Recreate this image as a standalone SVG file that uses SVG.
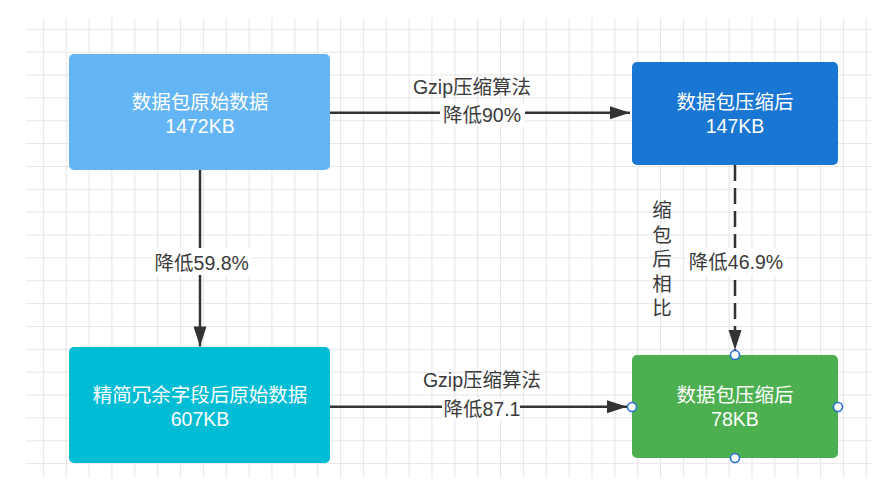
<svg xmlns="http://www.w3.org/2000/svg" width="894" height="485" viewBox="0 0 894 485">
  <defs>
    <pattern id="grid" x="42.8" y="28.8" width="22.86" height="22.86" patternUnits="userSpaceOnUse">
      <path d="M0.5,0 V22.86 M0,0.5 H22.86" fill="none" stroke="#e6e6e6" stroke-width="1.2"/>
    </pattern>
    <marker id="arrow" markerUnits="userSpaceOnUse" markerWidth="20" markerHeight="14" refX="20" refY="7" orient="auto" overflow="visible">
      <path d="M0,0.5 L20,7 L0,13.5 Z" fill="#333333"/>
    </marker>
    <style>
      .node-text { font-family: "Liberation Sans", "Noto Sans CJK SC", sans-serif; font-size: 19.5px; fill: #ffffff; text-anchor: middle; }
      .label { font-family: "Liberation Sans", "Noto Sans CJK SC", sans-serif; font-size: 19.5px; fill: #3a3a3a; text-anchor: middle; }
      .edge { fill: none; stroke: #333333; stroke-width: 2.5; marker-end: url(#arrow); }
      .dashed { stroke-dasharray: 16 7; }
      .label-bg { fill: #ffffff; }
      .handle { fill: #ffffff; stroke: #2a6fd6; stroke-width: 1.6; }
    </style>
  </defs>

  <rect width="894" height="485" fill="#ffffff"/>
  <rect x="26" y="18" width="846" height="460" fill="url(#grid)"/>

  <g id="connectors">
    <path class="edge" d="M330,112.7 H630"/>
    <path class="edge" d="M200,170 V346.5"/>
    <path class="edge dashed" d="M735,165 V350"/>
    <path class="edge" d="M330,406.7 H627"/>

    <rect class="label-bg" x="440" y="104" width="85" height="22"/>
    <rect class="label-bg" x="152" y="248" width="100" height="27"/>
    <rect class="label-bg" x="686" y="248" width="100" height="27"/>
    <rect class="label-bg" x="442" y="398" width="78" height="22"/>

    <text class="label" x="472" y="93.7">Gzip压缩算法</text>
    <text class="label" x="482" y="122">降低90%</text>
    <text class="label" x="201.7" y="270.3">降低59.8%</text>
    <text class="label" x="736" y="268.7">降低46.9%</text>
    <text class="label" x="662" y="217">缩</text>
    <text class="label" x="662" y="241.6">包</text>
    <text class="label" x="662" y="266.2">后</text>
    <text class="label" x="662" y="290.8">相</text>
    <text class="label" x="662" y="315.4">比</text>
    <text class="label" x="482" y="387">Gzip压缩算法</text>
    <text class="label" x="482" y="416.3">降低87.1</text>
  </g>

  <g id="node-raw">
    <rect x="69" y="54" width="261" height="116" rx="5" fill="#64b5f6"/>
    <text class="node-text" x="200" y="108.7">数据包原始数据</text>
    <text class="node-text" x="200" y="133">1472KB</text>
  </g>

  <g id="node-compressed">
    <rect x="632" y="62" width="206" height="103" rx="5" fill="#1976d2"/>
    <text class="node-text" x="735" y="108.7">数据包压缩后</text>
    <text class="node-text" x="735" y="133">147KB</text>
  </g>

  <g id="node-trimmed">
    <rect x="69" y="347" width="261" height="116" rx="5" fill="#00bcd4"/>
    <text class="node-text" x="200" y="402">精简冗余字段后原始数据</text>
    <text class="node-text" x="200" y="426.3">607KB</text>
  </g>

  <g id="node-final">
    <rect x="632" y="355" width="206" height="103" rx="5" fill="#4caf50"/>
    <text class="node-text" x="735" y="402">数据包压缩后</text>
    <text class="node-text" x="735" y="426.3">78KB</text>
    <circle class="handle" cx="735" cy="355" r="4.5"/>
    <circle class="handle" cx="632" cy="407" r="4.5"/>
    <circle class="handle" cx="838" cy="407" r="4.5"/>
    <circle class="handle" cx="735" cy="458" r="4.5"/>
  </g>
</svg>
